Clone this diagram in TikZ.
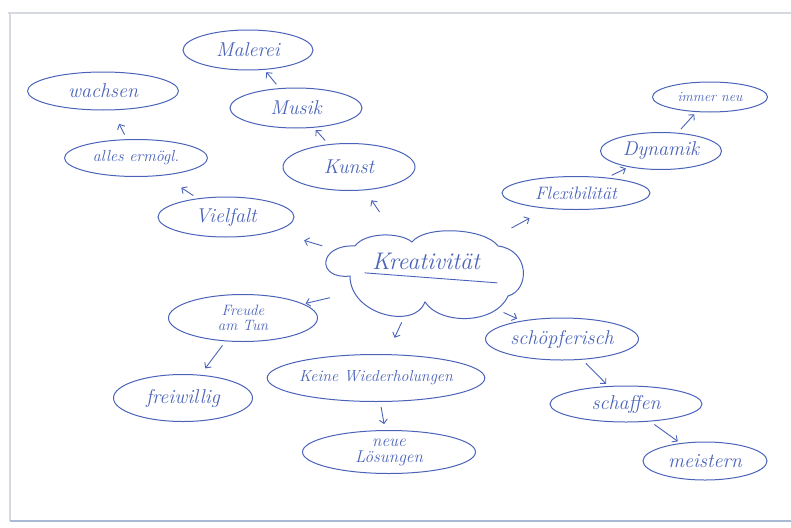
\documentclass[tikz,border=0pt]{standalone}
\usepackage{tikz}
\usetikzlibrary{arrows.meta, shapes.geometric}
\definecolor{InkBlue}{HTML}{4A63B8}
\definecolor{PaperGray}{HTML}{D6DAE0}
\definecolor{PaperBlue}{HTML}{A8BAD4}
\tikzset{
  bubble/.style={ellipse, draw=InkBlue, line width=1pt, text=InkBlue, inner sep=0pt, align=center, font=\fontsize{20}{21}\selectfont\itshape},
  link/.style={-{Straight Barb[length=4pt,width=8pt]}, color=InkBlue, line width=0.9pt, shorten >=3pt, shorten <=5pt}
}

\begin{document}
\begin{tikzpicture}[x=1pt, y=-1pt]
  \useasboundingbox (0,0) rectangle (791,527);
  \draw[PaperGray, line width=1.2pt] (8,13) -- (791,13);
  \draw[PaperGray, line width=1.2pt] (10,13) -- (10,521);
  \draw[PaperBlue, line width=2pt] (10,521) -- (791,521);

  \node[ellipse, minimum width=195pt, minimum height=85pt, inner sep=0pt] (kreat) at (423,276) {};
  \draw[InkBlue, line width=1pt] (355,246) .. controls (318,244) and (316,280) .. (350,276)
    .. controls (350,315) and (415,330) .. (425,302)
    .. controls (440,325) and (495,325) .. (508,296)
    .. controls (530,290) and (530,250) .. (498,246)
    .. controls (485,228) and (425,225) .. (412,242)
    .. controls (400,232) and (365,232) .. (355,246);
  \node[text=InkBlue, font=\fontsize{24}{26}\selectfont\itshape] (kreattxt) at (426,261) {Kreativität};
  \draw[InkBlue, line width=0.9pt] ([xshift=-4pt]kreattxt.south west) -- ([xshift=14pt, yshift=-10pt]kreattxt.south east);

  \node[bubble, minimum width=130pt, minimum height=40pt] (malerei) at (248,50) {Malerei};
  \node[bubble, minimum width=151pt, minimum height=38pt] (wachsen) at (103,91) {wachsen};
  \node[bubble, minimum width=132pt, minimum height=40pt] (musik) at (296,108) {Musik};
  \node[bubble, minimum width=143pt, minimum height=37pt, font=\fontsize{16}{18}\selectfont\itshape] (alles) at (136,158) {alles ermögl.};
  \node[bubble, minimum width=132pt, minimum height=47pt] (kunst) at (349,167) {Kunst};
  \node[bubble, minimum width=136pt, minimum height=40pt] (vielfalt) at (226,217) {Vielfalt};

  \node[bubble, minimum width=148pt, minimum height=33pt, font=\fontsize{18}{20}\selectfont\itshape] (flex) at (576,193) {Flexibilität};
  \node[bubble, minimum width=121pt, minimum height=37pt] (dynamik) at (661,151) {Dynamik};
  \node[bubble, minimum width=115pt, minimum height=30pt, font=\fontsize{14}{16}\selectfont\itshape] (immerneu) at (710,97) {immer neu};

  \node[bubble, minimum width=149pt, minimum height=47pt, font=\fontsize{15}{15}\selectfont\itshape] (freude) at (243,318) {Freude\\am Tun};
  \node[bubble, minimum width=139pt, minimum height=47pt] (freiwillig) at (183,398) {freiwillig};
  \node[bubble, minimum width=184pt, minimum height=47pt, font=\fontsize{16}{18}\selectfont\itshape] (keine) at (376,378) {Keine Wiederholungen};
  \node[bubble, minimum width=173pt, minimum height=43pt, font=\fontsize{17}{16}\selectfont\itshape] (neue) at (389,452) {neue\\Lösungen};

  \node[bubble, minimum width=153pt, minimum height=42pt] (schoepf) at (562,339) {schöpferisch};
  \node[bubble, minimum width=152pt, minimum height=36pt] (schaffen) at (626,404) {schaffen};
  \node[bubble, minimum width=124pt, minimum height=38pt] (meistern) at (705,461) {meistern};

  \draw[link, shorten <=28pt, shorten >=12pt] (kreat) -- (kunst);
  \draw[link, shorten <=21pt, shorten >=31pt] (kreat) -- (vielfalt);
  \draw[link, shorten <=31pt, shorten >=20pt] (kreat) -- (flex);
  \draw[link, shorten <=7pt, shorten >=2pt] (kreat) -- (freude);
  \draw[link, shorten <=5pt, shorten >=18pt] (kreat) -- (keine);
  \draw[link, shorten <=14pt, shorten >=5pt] (kreat) -- (schoepf);

  \draw[link] (kunst) -- (musik);
  \draw[link] (musik) -- (malerei);
  \draw[link, shorten >=22pt] (vielfalt) -- (alles);
  \draw[link, shorten >=15pt] (alles) -- (wachsen);
  \draw[link] (flex) -- (dynamik);
  \draw[link] (dynamik) -- (immerneu);
  \draw[link, shorten >=8pt] (freude) -- (freiwillig);
  \draw[link, shorten >=6pt] (keine) -- (neue);
  \draw[link] (schoepf) -- (schaffen);
  \draw[link] (schaffen) -- (meistern);
\end{tikzpicture}
\end{document}
